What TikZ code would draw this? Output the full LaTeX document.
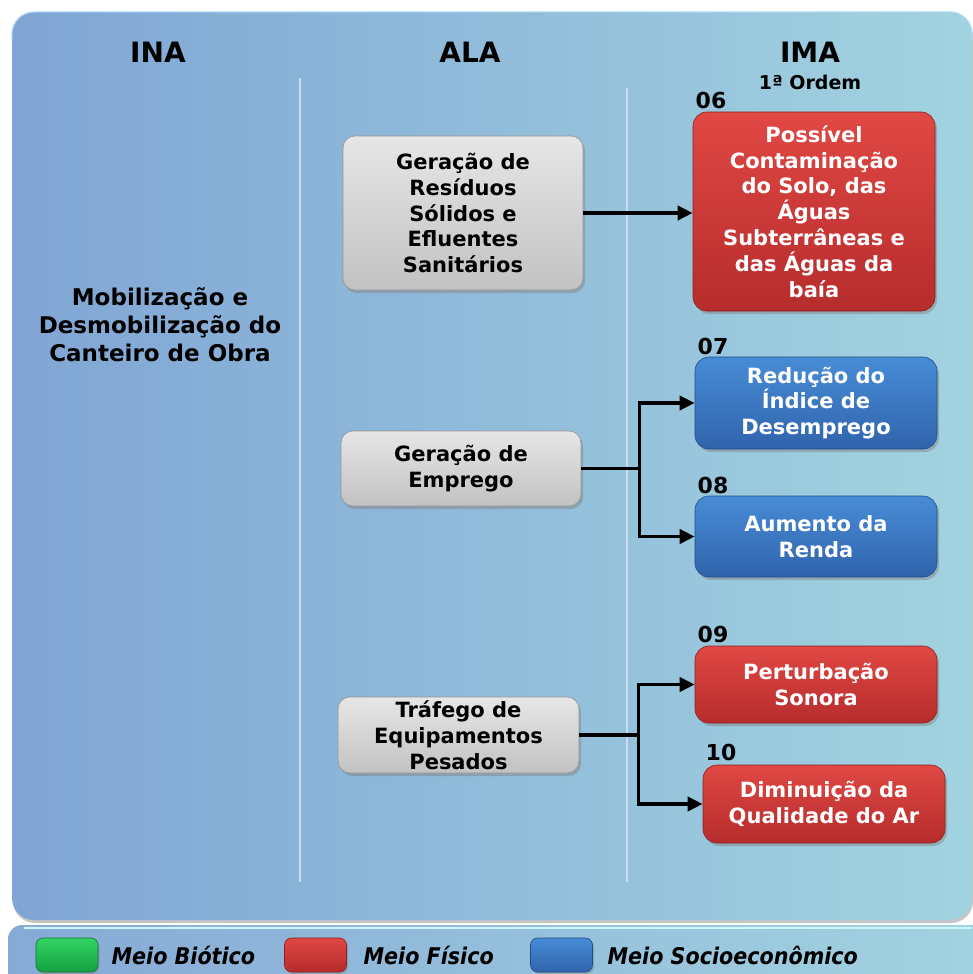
\documentclass[tikz,border=0pt]{standalone}
\usepackage{fontspec}
\setmainfont{DejaVu Sans}
\newfontfamily\legendfont{DejaVu Sans Condensed}
\usetikzlibrary{arrows.meta,shadows}

\definecolor{panelL}{RGB}{128,165,212}
\definecolor{panelM}{RGB}{112,168,204}
\definecolor{panelR}{RGB}{162,211,224}
\definecolor{redT}{RGB}{224,72,68}
\definecolor{redB}{RGB}{182,44,44}
\definecolor{redD}{RGB}{140,32,32}
\definecolor{bluT}{RGB}{72,140,214}
\definecolor{bluB}{RGB}{48,100,172}
\definecolor{bluD}{RGB}{36,76,134}
\definecolor{grnT}{RGB}{50,212,100}
\definecolor{grnB}{RGB}{22,160,66}
\definecolor{grnD}{RGB}{18,115,48}
\definecolor{grayT}{RGB}{230,230,230}
\definecolor{grayB}{RGB}{194,194,194}
\definecolor{grayD}{RGB}{150,150,150}
\definecolor{sepc}{RGB}{205,218,242}
\definecolor{rimc}{RGB}{205,246,250}
\definecolor{toprim}{RGB}{170,215,245}

\tikzset{
  boxshadow/.style={drop shadow={opacity=0.45,shadow xshift=2pt,shadow yshift=-3pt}},
  alabox/.style={rounded corners=12pt, top color=grayT, bottom color=grayB,
    draw=grayD, line width=0.6pt, align=center, inner sep=0pt, boxshadow,
    font=\fontsize{21}{25.8}\selectfont\bfseries, text=black},
  redbox/.style={rounded corners=14pt, top color=redT, bottom color=redB,
    draw=redD, line width=0.6pt, align=center, inner sep=0pt, boxshadow,
    font=\fontsize{21}{25.8}\selectfont\bfseries, text=white},
  blubox/.style={redbox, top color=bluT, bottom color=bluB, draw=bluD},
  header/.style={font=\fontsize{28}{30}\selectfont\bfseries, text=black},
  subheader/.style={font=\fontsize{19}{21}\selectfont\bfseries, text=black},
  numlabel/.style={font=\fontsize{22}{24}\selectfont\bfseries, text=black},
  inatext/.style={font=\fontsize{23}{28}\selectfont\bfseries, align=center, text=black},
  separator/.style={draw=sepc, line width=1.8pt},
  link/.style={line width=3.6pt, black},
  conn/.style={link, -{Triangle[length=15pt,width=14pt]}},
  swatch/.style={rounded corners=7pt, minimum width=62pt, minimum height=34pt,
    inner sep=0pt, line width=0.6pt, drop shadow={opacity=0.4,shadow xshift=1.5pt,shadow yshift=-2pt}},
  legendtext/.style={font=\legendfont\fontsize{23}{25}\selectfont\bfseries\itshape,
    anchor=west, text=black},
}

\begin{document}
\begin{tikzpicture}[x=1pt,y=-1pt]
\useasboundingbox (0,0) rectangle (973,974);
\fill[white] (0,0) rectangle (973,974);

% main panel
\shade[rounded corners=22pt, left color=panelL, middle color=panelM, right color=panelR,
  drop shadow={opacity=0.45,shadow xshift=1pt,shadow yshift=-3pt}]
  (12,12) rectangle (972,920);
\draw[rounded corners=22pt, toprim, opacity=0.8, line width=1.4pt]
  (12,40) -- (12,12) -- (972,12) -- (972,40);

% legend panel
\shade[rounded corners=14pt, left color=panelL!95!white, middle color=panelM!92!white, right color=panelR,
  drop shadow={opacity=0.3,shadow xshift=1pt,shadow yshift=-2pt}]
  (8,925) rectangle (990,1000);
\draw[rimc, line width=2.6pt] (24,928) -- (972,928);

% column separators
\draw[separator] (300,78) -- (300,882);
\draw[separator] (627,88) -- (627,882);

% headers
\node[header] (hINA) at (158,52) {INA};
\node[header] (hALA) at (470,52) {ALA};
\node[header] (hIMA) at (810,52) {IMA};
\node[subheader] (hOrd) at (810,82) {1ª Ordem};

% INA
\node[inatext] (ina) at (160,325) {Mobilização e\\Desmobilização do\\Canteiro de Obra};

% ALA boxes
\node[alabox, minimum width=240pt, minimum height=154pt] (g1) at (463,213)
  {Geração de\\Resíduos\\Sólidos e\\Efluentes\\Sanitários};
\node[alabox, minimum width=240pt, minimum height=75pt] (g2) at (461,468.5)
  {Geração de\\Emprego};
\node[alabox, minimum width=241pt, minimum height=76pt] (g3) at (458.5,735)
  {Tráfego de\\Equipamentos\\Pesados};

% IMA boxes
\node[redbox, minimum width=242pt, minimum height=199pt] (r06) at (814,211.5)
  {Possível\\Contaminação\\do Solo, das\\Águas\\Subterrâneas e\\das Águas da\\baía};
\node[blubox, minimum width=242pt, minimum height=92pt] (b07) at (816,403)
  {Redução do\\Índice de\\Desemprego};
\node[blubox, minimum width=242pt, minimum height=81pt] (b08) at (816,536.5)
  {Aumento da\\Renda};
\node[redbox, minimum width=242pt, minimum height=77pt] (r09) at (816,684.5)
  {Perturbação\\Sonora};
\node[redbox, minimum width=242pt, minimum height=78pt] (r10) at (824,804)
  {Diminuição da\\Qualidade do Ar};

% impact numbers
\node[numlabel] (n06) at (711,100) {06};
\node[numlabel] (n07) at (713,346) {07};
\node[numlabel] (n08) at (713,485) {08};
\node[numlabel] (n09) at (713,634) {09};
\node[numlabel] (n10) at (721,752) {10};

% connectors
\draw[conn] (g1.east) -- (g1.east -| r06.west);

\draw[link] (g2.east) -- ++(58,0) coordinate (j2);
\draw[conn] (j2) |- (b07.west);
\draw[conn] (j2) |- (b08.west);

\draw[link] (g3.east) -- ++(59,0) coordinate (j3);
\draw[conn] (j3) |- (r09.west);
\draw[conn] (j3) |- (r10.west);

% legend
\node[swatch, top color=grnT, bottom color=grnB, draw=grnD] (sBio) at (67,955) {};
\node[legendtext] (tBio) at (108,955) {Meio Biótico};
\node[swatch, top color=redT, bottom color=redB, draw=redD] (sFis) at (315.5,955) {};
\node[legendtext] (tFis) at (360,955) {Meio Físico};
\node[swatch, top color=bluT, bottom color=bluB, draw=bluD] (sSoc) at (561.5,955) {};
\node[legendtext] (tSoc) at (604,955) {Meio Socioeconômico};
\end{tikzpicture}
\end{document}
